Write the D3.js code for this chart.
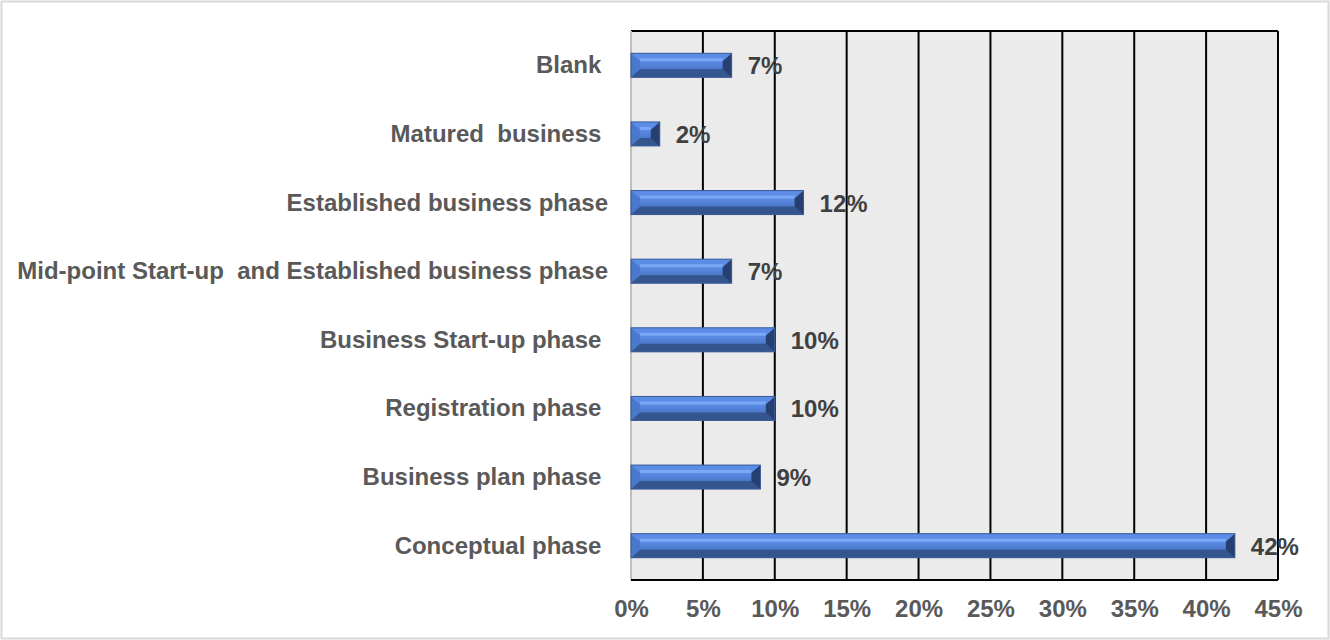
<!DOCTYPE html>
<html>
<head>
<meta charset="utf-8">
<script src="https://cdn.jsdelivr.net/npm/d3@7"></script>
<style>
  html, body { margin: 0; padding: 0; background: #ffffff; }
  svg text { font-family: "Liberation Sans", Arial, sans-serif; font-weight: bold; white-space: pre; }
</style>
</head>
<body>
<svg id="chart" width="1330" height="640"></svg>
<script>
// Business phases, listed top to bottom
const categories = [
  "Blank ",
  "Matured  business ",
  "Established business phase",
  "Mid-point Start-up  and Established business phase",
  "Business Start-up phase ",
  "Registration phase ",
  "Business plan phase ",
  "Conceptual phase "
];
// Share of respondents in each phase (%)
const values = [7, 2, 12, 7, 10, 10, 9, 42];
// Axis ticks (%)
const ticks = [0, 5, 10, 15, 20, 25, 30, 35, 40, 45];

const svg = d3.select("#chart");
const W = 1330, H = 640;
const plot = { left: 631, right: 1278, top: 31, bottom: 580 };
const FS = 24;

// outer frame
svg.append("rect")
  .attr("x", 1.5).attr("y", 1.5).attr("width", W - 3).attr("height", H - 3)
  .attr("fill", "#ffffff").attr("stroke", "#d9d9d9").attr("stroke-width", 2);

const x = d3.scaleLinear().domain([0, 45]).range([plot.left, plot.right]);
const y = d3.scaleBand().domain(categories).range([plot.top, plot.bottom]).paddingInner(0.65).paddingOuter(0.325);

// plot background
svg.append("rect")
  .attr("x", plot.left).attr("y", plot.top)
  .attr("width", plot.right - plot.left).attr("height", plot.bottom - plot.top)
  .attr("fill", "#ebebeb");

// vertical gridlines
svg.append("g").selectAll("line")
  .data(ticks.filter(t => t > 0))
  .join("line")
  .attr("x1", d => x(d)).attr("x2", d => x(d))
  .attr("y1", plot.top).attr("y2", plot.bottom)
  .attr("stroke", "#000000").attr("stroke-width", 2);

// top border of the plot
svg.append("line")
  .attr("x1", plot.left).attr("x2", plot.right).attr("y1", plot.top).attr("y2", plot.top)
  .attr("stroke", "#000").attr("stroke-width", 2);
// vertical category axis (light grey)
svg.append("line")
  .attr("x1", plot.left).attr("x2", plot.left).attr("y1", plot.top).attr("y2", plot.bottom)
  .attr("stroke", "#bfbfbf").attr("stroke-width", 2);

// bevelled bars
const defs = svg.append("defs");
const grad = defs.append("linearGradient").attr("id", "barFace")
  .attr("x1", 0).attr("y1", 0).attr("x2", 0).attr("y2", 1);
grad.append("stop").attr("offset", "0%").attr("stop-color", "#6d9cee");
grad.append("stop").attr("offset", "45%").attr("stop-color", "#5585dc");
grad.append("stop").attr("offset", "100%").attr("stop-color", "#3d64ab");

const bars = svg.append("g").selectAll("g")
  .data(categories.map((c, i) => ({ c, v: values[i] })))
  .join("g");

bars.each(function(d) {
  const g = d3.select(this);
  const x0 = x(0), x1 = x(d.v);
  const y0 = y(d.c), h = y.bandwidth(), y1 = y0 + h;
  const w = x1 - x0;
  const b = Math.min(9, w / 2), bv = Math.min(8, h / 2);
  g.append("rect").attr("x", x0).attr("y", y0).attr("width", w).attr("height", h)
    .attr("fill", "url(#barFace)");
  // top bevel
  g.append("polygon")
    .attr("points", [[x0, y0], [x1, y0], [x1 - b, y0 + bv], [x0 + b, y0 + bv]].join(" "))
    .attr("fill", "#5b8ce6");
  g.append("polygon")
    .attr("points", [[x0 + b, y0 + bv - 3], [x1 - b, y0 + bv - 3], [x1 - b, y0 + bv], [x0 + b, y0 + bv]].join(" "))
    .attr("fill", "#7aa8f5");
  // bottom bevel
  g.append("polygon")
    .attr("points", [[x0, y1], [x1, y1], [x1 - b, y1 - bv], [x0 + b, y1 - bv]].join(" "))
    .attr("fill", "#35558f");
  // left bevel
  g.append("polygon")
    .attr("points", [[x0, y0], [x0 + b, y0 + bv], [x0 + b, y1 - bv], [x0, y1]].join(" "))
    .attr("fill", "#4a78cc");
  // right bevel
  g.append("polygon")
    .attr("points", [[x1, y0], [x1 - b, y0 + bv], [x1 - b, y1 - bv], [x1, y1]].join(" "))
    .attr("fill", "#263f70");
  g.append("rect").attr("x", x0).attr("y", y0).attr("width", w).attr("height", h)
    .attr("fill", "none").attr("stroke", "#3b5c98").attr("stroke-width", 1);
});

// bottom and right borders of the plot
svg.append("line")
  .attr("x1", plot.left).attr("x2", plot.right).attr("y1", plot.bottom).attr("y2", plot.bottom)
  .attr("stroke", "#000").attr("stroke-width", 2);
svg.append("line")
  .attr("x1", plot.right).attr("x2", plot.right).attr("y1", plot.top).attr("y2", plot.bottom)
  .attr("stroke", "#000").attr("stroke-width", 2);

// x axis tick labels
const xAxis = d3.axisBottom(x).tickValues(ticks).tickFormat(d => d + "%").tickSize(0).tickPadding(0);
const ax = svg.append("g").attr("transform", `translate(0,${plot.bottom})`).call(xAxis);
ax.select(".domain").remove();
ax.selectAll("text")
  .attr("y", 37).attr("dy", null)
  .attr("font-size", FS).attr("fill", "#595959")
  .style("font-family", "\"Liberation Sans\", Arial, sans-serif").style("font-weight", "bold");

// category labels
svg.append("g").selectAll("text")
  .data(categories)
  .join("text")
  .attr("x", plot.left - 23)
  .attr("y", d => y(d) + y.bandwidth() / 2 + 8)
  .attr("text-anchor", "end")
  .attr("font-size", FS)
  .attr("fill", "#595959")
  .text(d => d);

// value labels
svg.append("g").selectAll("text")
  .data(categories.map((c, i) => ({ c, v: values[i] })))
  .join("text")
  .attr("x", d => x(d.v) + 16)
  .attr("y", d => y(d.c) + y.bandwidth() / 2 + 9)
  .attr("font-size", FS)
  .attr("fill", "#404040")
  .text(d => d.v + "%");
</script>
</body>
</html>
